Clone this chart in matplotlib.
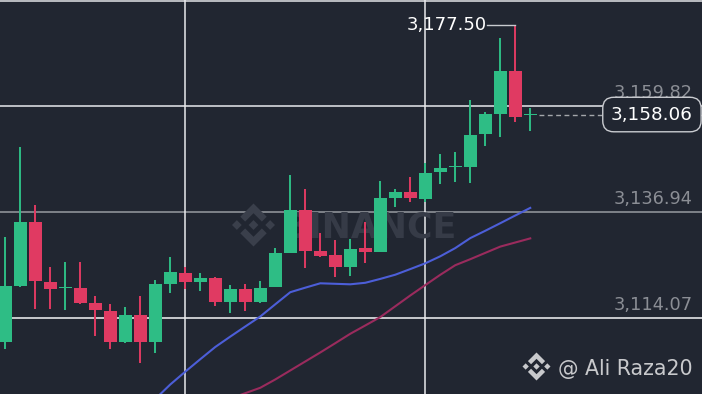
import numpy as np
import matplotlib.pyplot as plt
from matplotlib.patches import Polygon
from matplotlib.transforms import Affine2D

# candle data
opens = [3108.77, 3120.97, 3134.77, 3121.77, 3120.41, 3120.47, 3117.16, 3115.55, 3108.84, 3114.56,
         3108.84, 3121.27, 3123.79, 3121.71, 3122.64, 3117.37, 3120.26, 3117.44, 3120.62, 3128.12,
         3137.31, 3128.49, 3127.56, 3125.02, 3129.07, 3128.34, 3140.04, 3141.27, 3139.82, 3145.50,
         3146.63, 3146.76, 3153.78, 3158.11, 3167.49, 3157.90]
highs = [3131.52, 3151.02, 3138.46, 3125.09, 3126.11, 3126.17, 3118.74, 3117.01, 3116.36, 3118.80,
         3122.21, 3127.19, 3125.09, 3123.66, 3122.80, 3121.12, 3121.27, 3121.99, 3129.07, 3144.96,
         3141.99, 3132.32, 3130.81, 3131.09, 3134.77, 3143.72, 3141.99, 3144.52, 3147.49, 3149.44,
         3149.88, 3161.21, 3158.61, 3174.58, 3177.50, 3159.41]
lows = [3107.25, 3120.69, 3115.92, 3115.99, 3115.71, 3117.00, 3110.07, 3107.25, 3108.56, 3104.16,
        3106.32, 3119.45, 3120.32, 3119.89, 3116.64, 3115.12, 3115.55, 3117.16, 3120.62, 3128.12,
        3124.74, 3127.26, 3122.92, 3123.14, 3125.95, 3128.34, 3137.96, 3139.17, 3139.04, 3143.01,
        3143.51, 3143.16, 3151.24, 3153.26, 3156.51, 3154.56]
closes = [3120.97, 3134.77, 3121.99, 3120.32, 3120.54, 3117.16, 3115.64, 3108.84, 3114.56, 3108.84,
          3121.34, 3123.87, 3121.71, 3122.70, 3117.37, 3120.32, 3117.50, 3120.47, 3127.99, 3137.31,
          3128.55, 3127.47, 3125.02, 3128.92, 3128.34, 3139.91, 3141.27, 3139.91, 3145.33, 3146.41,
          3146.84, 3153.69, 3158.11, 3167.49, 3157.59, 3158.06]

nan = np.nan
ma_fast = [nan] * 10 + [3096.42, 3099.56, 3102.34, 3105.04, 3107.69, 3109.94, 3112.13, 3114.30,
                        3116.94, 3119.56, 3120.54, 3121.49, 3121.38, 3121.27, 3121.60, 3122.44,
                        3123.35, 3124.57, 3125.82, 3127.34, 3129.12, 3131.28, 3132.87, 3134.51,
                        3136.18, 3137.83]
ma_slow = [nan] * 15 + [3096.51, 3097.68, 3098.85, 3100.65, 3102.60, 3104.55, 3106.50, 3108.51,
                        3110.55, 3112.35, 3114.17, 3116.51, 3118.85, 3121.10, 3123.33, 3125.41,
                        3126.71, 3128.08, 3129.44, 3130.33, 3131.22]

price_levels = [3182.69, 3159.82, 3136.94, 3114.07]
level_labels = ['', '3,159.82', '3,136.94', '3,114.07']
level_colors = ['#d4d6da', '#d8dade', '#8e9198', '#e4e5e8']
time_lines = [12, 28]

last_price = 3158.06
high_label = '3,177.50'

BG = '#212631'
UP = '#2ebd85'
DOWN = '#e03a62'
FONT = ['DejaVu Sans']

fig = plt.figure(figsize=(7.02, 3.94), dpi=100)
fig.patch.set_facecolor(BG)
ax = fig.add_axes([0, 0, 1, 1])
ax.set_facecolor(BG)
ax.set_xlim(-0.353, 46.45)
ax.set_ylim(3097.50, 3182.88)
ax.axis('off')

# grid
for lvl, col in zip(price_levels, level_colors):
    ax.axhline(lvl, color=col, lw=1.2, zorder=1)
for t in time_lines:
    ax.axvline(t, color='#e8e9ec', lw=1.1, zorder=1)

# binance logo paths (svg units, 126.6 square)
LOGO = [
    [(38.73, 53.2), (63.32, 28.62), (87.92, 53.22), (102.22, 38.91), (63.32, 0), (24.42, 38.9)],
    [(0, 63.31), (14.3, 49), (28.61, 63.31), (14.3, 77.61)],
    [(38.73, 73.41), (63.32, 98), (87.92, 73.4), (102.23, 87.69), (63.32, 126.6), (24.41, 87.72)],
    [(98, 63.31), (112.3, 49), (126.61, 63.3), (112.3, 77.62)],
    [(77.83, 63.3), (63.32, 48.78), (48.81, 63.28), (63.32, 77.78)],
]


def draw_logo(cx, cy, size, color, alpha=1.0, z=2):
    s = size / 126.6
    tr = Affine2D().translate(-63.3, -63.3).scale(s, -s).translate(cx, 394 - cy)
    for pts in LOGO:
        ax.add_patch(Polygon(pts, closed=True, transform=tr, facecolor=color,
                             edgecolor='none', alpha=alpha, zorder=z))


# watermark
draw_logo(253.5, 225, 43, '#3a3f4b', z=1.5)
ax.text(283 / 702, (394 - 238) / 394, 'BINANCE', transform=ax.transAxes, family=FONT,
        fontsize=25, fontweight='bold', color='#363b47', ha='left', va='baseline', zorder=1.5)

# moving averages
x = np.arange(len(opens))
ax.plot(x, ma_fast, color='#4c5ed8', lw=1.5, zorder=3)
ax.plot(x, ma_slow, color='#9a2b5d', lw=1.5, zorder=3)

# candles
o = np.array(opens); c = np.array(closes)
colors = [UP if cc >= oo else DOWN for oo, cc in zip(o, c)]
ax.vlines(x, lows, highs, colors=colors, lw=1.4, zorder=4)
body_low = np.minimum(o, c)
body_h = np.maximum(np.abs(c - o), 0.35)
ax.bar(x, body_h, bottom=body_low, width=0.86, color=colors, zorder=5)

# price labels on the right
for lvl, lab in zip(price_levels, level_labels):
    if lab:
        ax.annotate(lab, xy=(0.987, lvl), xycoords=('axes fraction', 'data'),
                    xytext=(0, 4), textcoords='offset pixels', ha='right', va='bottom',
                    fontsize=12.8, color='#8b8e95', family=FONT, zorder=6)

# last price line and box
ax.hlines(last_price, x[-1] + 0.6, 46.45, colors='#a4a6ab', lw=1.0,
          linestyles=(0, (3.5, 2.5)), zorder=6)
ax.annotate(f'{last_price:,.2f}', xy=(0.987, last_price), xycoords=('axes fraction', 'data'),
            ha='right', va='center', fontsize=13.2, color='white', family=FONT, zorder=8,
            bbox=dict(boxstyle='round,pad=0.45,rounding_size=0.6', fc=BG, ec='#c9cbd0', lw=1.0))

# high marker
hi = int(np.argmax(highs))
ax.plot([hi - 1.9, hi], [highs[hi], highs[hi]], color='#c9cbd0', lw=1.0, zorder=6)
ax.text(hi - 1.93, highs[hi], high_label, ha='right', va='center', fontsize=13,
        color='white', family=FONT, zorder=7)

# signature
draw_logo(536.5, 366.5, 28, '#c8c9cc', z=9)
ax.text(0.987, (394 - 375) / 394, '@ Ali Raza20', transform=ax.transAxes, family=FONT,
        fontsize=14.8, color='#c8c9cc', ha='right', va='baseline', zorder=9)

fig.savefig('out.png', dpi=100, facecolor=BG)
